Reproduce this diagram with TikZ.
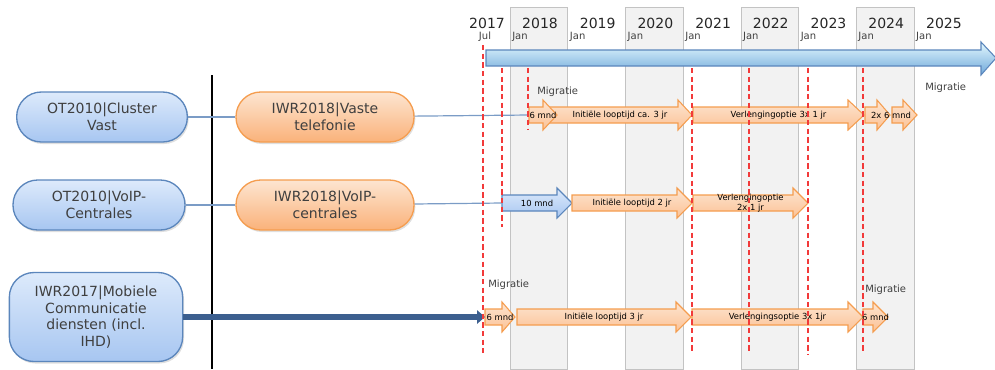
\documentclass[tikz,border=0pt]{standalone}
\usepackage{fontspec}
\setmainfont{DejaVu Sans}
\usetikzlibrary{arrows.meta,shadows}

\definecolor{bandgrijs}{HTML}{F2F2F2}
\definecolor{bandrand}{HTML}{C3C3C3}
\definecolor{oranjelicht}{HTML}{FDE5D1}
\definecolor{oranjedonker}{HTML}{FAB27A}
\definecolor{oranjerand}{HTML}{F59D4F}
\definecolor{blauwlicht}{HTML}{DDEAFB}
\definecolor{blauwdonker}{HTML}{A7C6F1}
\definecolor{blauwrand}{HTML}{5B86BC}
\definecolor{lijnblauw}{HTML}{7B9CC6}
\definecolor{pijlblauw}{HTML}{3C5F8F}
\definecolor{tijdlicht}{HTML}{E3F8FE}
\definecolor{tijdmidden}{HTML}{A9E2F7}
\definecolor{tijddonker}{HTML}{6FA8DA}
\definecolor{grensrood}{HTML}{F23A3A}
\definecolor{tekst}{HTML}{3F3F3F}

\tikzset{
  blok/.style={rounded corners=18.5pt, minimum height=37.5pt, align=center, text=tekst,
    font=\fontsize{10.5}{12.5}\selectfont, line width=1pt,
    drop shadow={shadow xshift=1pt, shadow yshift=-1.5pt, opacity=0.25}},
  blauwblok/.style={blok, draw=blauwrand, top color=blauwlicht, bottom color=blauwdonker},
  oranjeblok/.style={blok, draw=oranjerand, top color=oranjelicht, bottom color=oranjedonker},
  oranje/.style={draw=oranjerand, line width=0.8pt, top color=oranjelicht, bottom color=oranjedonker!80!white},
  blauw/.style={draw=blauwrand, line width=0.8pt, top color=blauwlicht, bottom color=blauwdonker},
  tijdas/.style={draw=blauwrand, line width=0.8pt, top color=tijdlicht, middle color=tijdmidden, bottom color=tijddonker},
  fasetekst/.style={font=\fontsize{6.3}{7.5}\selectfont, text=black, align=center, inner sep=0pt},
  jaar/.style={font=\fontsize{10.5}{12}\selectfont, text=black!85},
  maand/.style={font=\fontsize{7.5}{8}\selectfont, text=black!75, anchor=west, inner sep=0pt},
  migratie/.style={font=\fontsize{7.5}{9}\selectfont, text=tekst, anchor=west, inner sep=0pt},
  verbinding/.style={lijnblauw, line width=0.9pt},
  dikkepijl/.style={pijlblauw, line width=4.5pt, -{Triangle[length=6pt,width=10pt]}},
  grens/.style={grensrood, line width=1.4pt, dash pattern=on 4pt off 2.5pt}
}

% style, name, start, head, tip, y, text
\newcommand{\fasepijl}[7][oranje]{%
  \draw[#1] (#3,#6-8) -- (#4,#6-8) -- (#4,#6-15) -- (#5,#6) -- (#4,#6+15) -- (#4,#6+8) -- (#3,#6+8) -- cycle;
  \coordinate (#2-in) at (#3,#6);
  \node[fasetekst] (#2) at ({(#3+#5)/2},#6) {#7};
}

\begin{document}
\begin{tikzpicture}[x=0.75pt, y=-0.75pt, >=latex]
  \def\jaar{57.7}
  \useasboundingbox (0,0) rectangle (995,369);

  \foreach \i in {0,2,4,6}
    \draw[bandrand, fill=bandgrijs] ({510+\i*\jaar},7) rectangle ({510+(\i+1)*\jaar},369);

  \node[jaar] (j2017) at (487,23) {2017};
  \node[maand, anchor=center] (m2017) at (485,37) {Jul};
  \foreach[count=\i from 0] \j in {2018,...,2025} {
    \node[jaar] (j\j) at ({540+\i*\jaar},23) {\j};
    \node[maand] (m\j) at ({512+\i*\jaar},37) {Jan};
  }

  \draw[tijdas] (486,50) -- (981,50) -- (981,42) -- (996,58) -- (981,75) -- (981,66) -- (486,66) -- cycle;

  \draw[line width=1.5pt] (212,75) -- (212,369);

  \node[blauwblok, minimum width=128pt] (ot-vast) at (102,117) {OT2010|Cluster\\Vast};
  \node[blauwblok, minimum width=129pt] (ot-voip) at (99,205) {OT2010|VoIP-\\Centrales};
  \node[blauwblok, minimum width=130pt, minimum height=66.75pt] (iwr-mob) at (96,317)
    {IWR2017|Mobiele\\Communicatie\\diensten (incl.\\IHD)};
  \node[oranjeblok, minimum width=133.5pt] (iwr-vast) at (325,117) {IWR2018|Vaste\\telefonie};
  \node[oranjeblok, minimum width=133.5pt] (iwr-voip) at (325,205) {IWR2018|VoIP-\\centrales};

  \fasepijl{vast-2}{548}{678}{692}{115}{Initiële looptijd ca. 3 jr}
  \fasepijl{vast-1}{529}{543}{557}{115}{6 mnd}
  \fasepijl{vast-3}{693}{848}{864}{115}{Verlengingoptie 3x 1 jr}
  \fasepijl{vast-4}{865}{877}{890}{115}{}
  \fasepijl{vast-5}{892}{903}{917}{115}{}
  \node[fasetekst] (vast-45) at (891,115) {2x 6 mnd};

  \fasepijl[blauw]{voip-1}{502}{557}{572}{203}{10 mnd}
  \fasepijl{voip-2}{572}{677}{692}{203}{Initiële looptijd 2 jr}
  \fasepijl{voip-3}{693}{793}{808}{203}{Verlengingoptie\\2x 1 jr}

  \fasepijl{mob-1}{485}{502}{515}{317}{6 mnd}
  \fasepijl{mob-2}{517}{676}{691}{317}{Initiële looptijd 3 jr}
  \fasepijl{mob-3}{692}{848}{863}{317}{Verlengingsoptie 3x 1jr}
  \fasepijl{mob-4}{863}{873}{888}{317}{6 mnd}

  \draw[verbinding] (ot-vast) -- (iwr-vast);
  \draw[verbinding] (iwr-vast) -- (vast-1-in);
  \draw[verbinding] (ot-voip) -- (iwr-voip);
  \draw[verbinding] (iwr-voip) -- (voip-1-in);
  \draw[dikkepijl] (iwr-mob) -- (mob-1-in);

  \foreach \x/\ya/\yb in {483/45/353, 502/68/227, 528/68/130, 692/68/353, 749/68/353, 808/68/355, 863/68/353}
    \draw[grens] (\x,\ya) -- (\x,\yb);

  \node[migratie] (mig-1) at (537,92) {Migratie};
  \node[migratie] (mig-2) at (925,88) {Migratie};
  \node[migratie] (mig-3) at (488,285) {Migratie};
  \node[migratie] (mig-4) at (865,290) {Migratie};
\end{tikzpicture}
\end{document}
